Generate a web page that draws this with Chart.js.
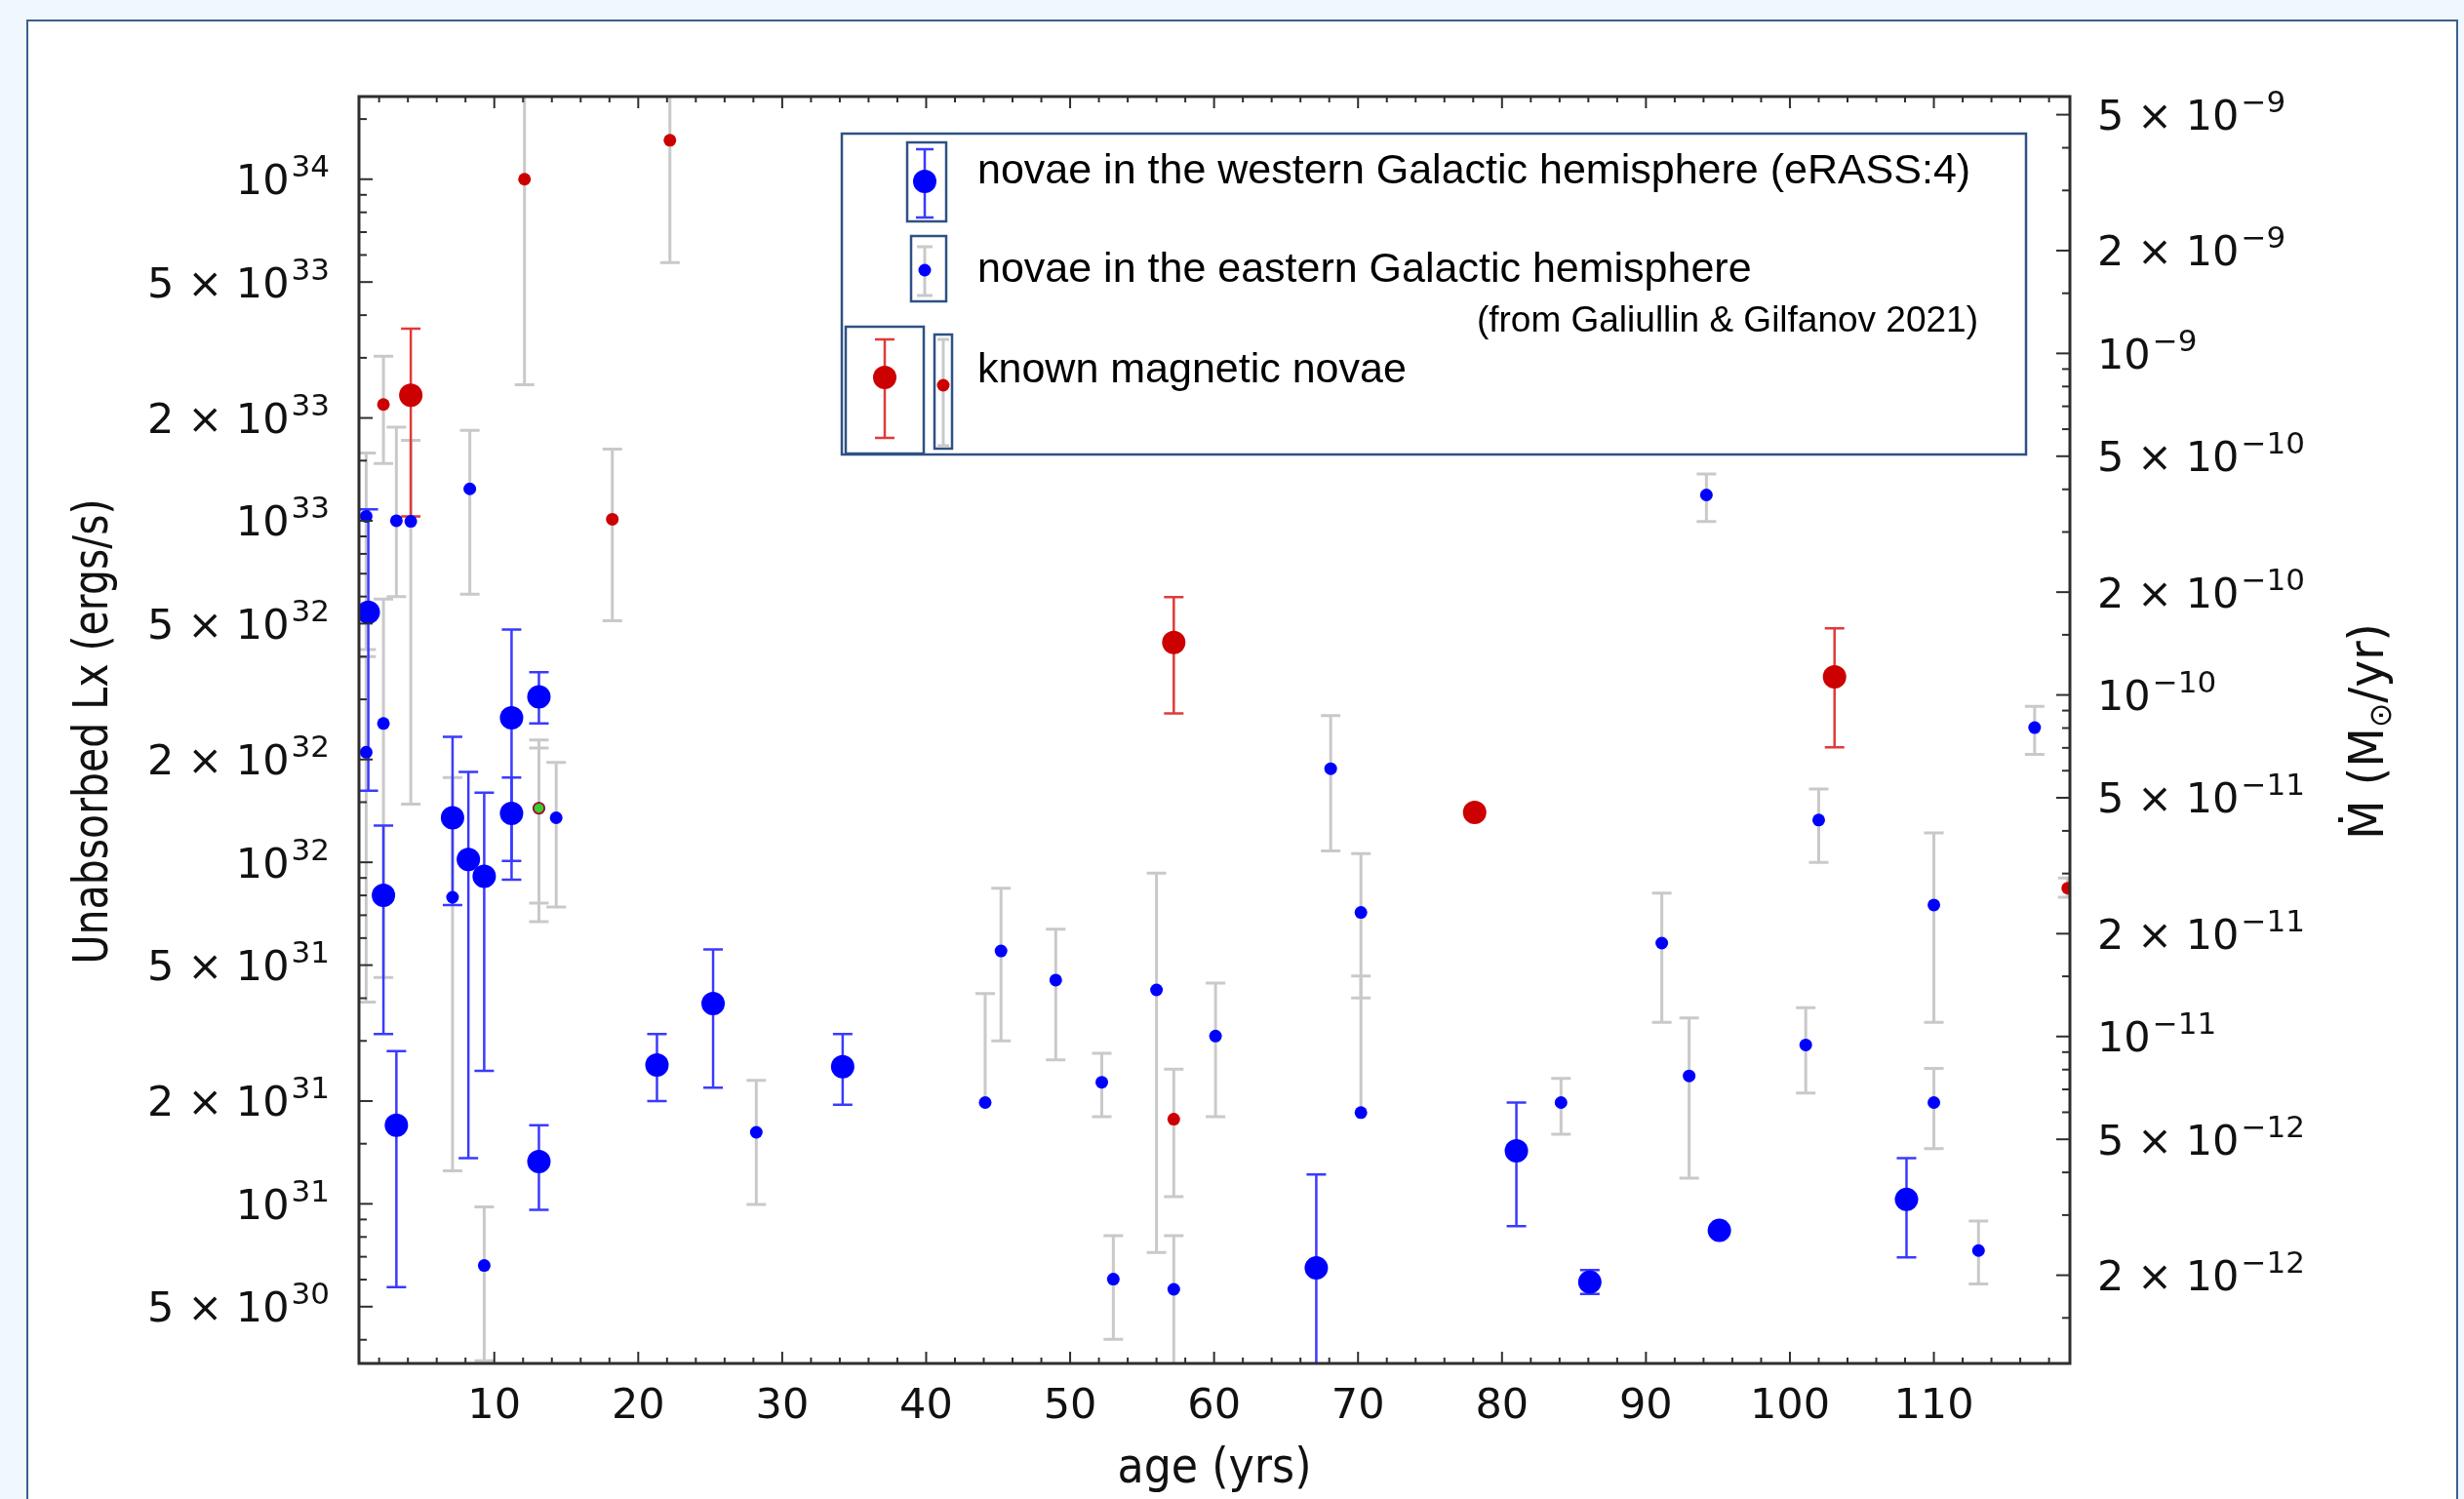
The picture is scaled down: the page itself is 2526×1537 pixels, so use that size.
<!DOCTYPE html>
<html>
<head>
<meta charset="utf-8">
<title>Nova X-ray luminosity vs age</title>
<script src="https://cdn.jsdelivr.net/npm/chart.js@4.4.1/dist/chart.umd.min.js"></script>
<style>
  html, body { margin: 0; padding: 0; }
  body { width: 2526px; height: 1537px; overflow: hidden; position: relative; background: #f0f7fd; }
  #panel { position: absolute; left: 27px; top: 20px; width: 2493px; height: 1600px;
           background: #ffffff; border: 2px solid #3a6090; box-sizing: border-box; }
  #chart { position: absolute; left: 0; top: 0; }
</style>
</head>
<body>
<div id="panel"></div>
<canvas id="chart" width="2526" height="1537"></canvas>
<script>
// ============================================
// DATA (age in yrs, unabsorbed Lx in erg/s, error bar ends)
// ============================================

// novae in the western Galactic hemisphere (eRASS:4)
const westAge = [1.25, 2.3, 3.2, 7.1, 8.2, 9.3, 11.2, 11.2, 13.1, 13.1, 21.3, 25.2, 34.2, 67.1, 81.0, 86.1, 95.1, 108.1];
const westLx  = [5.4e32, 8.0e31, 1.7e31, 1.35e32, 1.02e32, 9.1e31, 2.65e32, 1.39e32, 3.05e32, 1.33e31, 2.55e31, 3.86e31, 2.52e31, 6.49e30, 1.43e31, 5.9e30, 8.36e30, 1.03e31];
const westLo  = [1.62e32, 3.14e31, 5.7e30, 7.5e31, 1.36e31, 2.45e31, 8.9e31, 1.01e32, 2.55e32, 9.6e30, 2.0e31, 2.19e31, 1.95e31, 2.0e30, 8.6e30, 5.45e30, 8.1e30, 6.97e30];
const westHi  = [1.08e33, 1.28e32, 2.8e31, 2.33e32, 1.84e32, 1.6e32, 4.8e32, 1.77e32, 3.6e32, 1.7e31, 3.14e31, 5.56e31, 3.14e31, 1.22e31, 1.98e31, 6.4e30, 8.6e30, 1.36e31];

// novae in the eastern Galactic hemisphere (Galiullin & Gilfanov 2021)
const eastAge = [1.1, 1.1, 2.3, 3.2, 4.2, 7.1, 8.3, 9.3, 13.1, 14.3, 28.2, 44.1, 45.2, 49.0, 52.2, 53.0, 56.0, 57.2, 60.1, 68.1, 70.2, 70.2, 84.1, 91.1, 93.0, 94.2, 101.1, 102.0, 110.0, 110.0, 113.1, 117.0];
const eastLx  = [1.03e33, 2.1e32, 2.55e32, 1.0e33, 9.96e32, 7.9e31, 1.24e33, 6.6e30, 1.44e32, 1.35e32, 1.62e31, 1.98e31, 5.5e31, 4.52e31, 2.27e31, 6.02e30, 4.23e31, 5.62e30, 3.1e31, 1.88e32, 7.13e31, 1.85e31, 1.98e31, 5.8e31, 2.37e31, 1.19e33, 2.92e31, 1.33e32, 7.5e31, 1.98e31, 7.3e30, 2.48e32];
const eastLo  = [4.2e32, 3.9e31, 4.6e31, 6.0e32, 1.48e32, 1.25e31, 6.1e32, 3.47e30, 6.7e31, 7.4e31, 9.96e30, 1.98e31, 3.0e31, 2.64e31, 1.8e31, 4.01e30, 7.2e30, 2.0e30, 1.8e31, 1.08e32, 4.01e31, 1.85e31, 1.6e31, 3.4e31, 1.19e31, 9.95e32, 2.11e31, 1.0e32, 3.4e31, 1.45e31, 5.83e30, 2.07e32];
const eastHi  = [1.58e33, 4.0e32, 5.9e32, 1.88e33, 1.72e33, 1.77e32, 1.84e33, 9.8e30, 2.28e32, 1.96e32, 2.3e31, 4.13e31, 8.4e31, 6.37e31, 2.76e31, 8.07e30, 9.3e31, 8.07e30, 4.43e31, 2.69e32, 1.06e32, 4.65e31, 2.33e31, 8.13e31, 3.5e31, 1.37e33, 3.75e31, 1.64e32, 1.22e32, 2.49e31, 8.9e30, 2.86e32];

// known magnetic novae, western sample (large red)
const magWestAge = [4.2, 57.2, 78.1, 103.1];
const magWestLx  = [2.33e33, 4.4e32, 1.40e32, 3.49e32];
const magWestLo  = [1.03e33, 2.73e32, 1.40e32, 2.17e32];
const magWestHi  = [3.65e33, 5.98e32, 1.40e32, 4.84e32];

// known magnetic novae, eastern sample (small red)
const magEastAge = [2.3, 12.1, 18.2, 22.2, 57.2, 119.3];
const magEastLx  = [2.19e33, 1.0e34, 1.01e33, 1.3e34, 1.77e31, 8.4e31];
const magEastLo  = [1.47e33, 2.5e33, 5.1e32, 5.7e33, 1.05e31, 7.9e31];
const magEastHi  = [3.03e33, 3.0e34, 1.62e33, 3.0e34, 2.48e31, 9.0e31];

// the single green-marked source
const greenAge = [13.1];
const greenLx  = [1.44e32];
const greenLo  = [7.6e31];
const greenHi  = [2.16e32];

// axes
const ageRange = [0.6, 119.45];
const lxRange = [3.41e30, 1.746e34];
const mdotPerLx = Math.pow(10, -42.49);
const ageTicks = [10, 20, 30, 40, 50, 60, 70, 80, 90, 100, 110];
const lxTicks = [5e30, 1e31, 2e31, 5e31, 1e32, 2e32, 5e32, 1e33, 2e33, 5e33, 1e34];
const mdotTicks = [2e-12, 5e-12, 1e-11, 2e-11, 5e-11, 1e-10, 2e-10, 5e-10, 1e-9, 2e-9, 5e-9];
const logMinor = [1.5, 3, 4, 6, 7, 8, 9];

// ============================================
// STYLE
// ============================================
const BLUE = '#0000ff';
const RED = '#cc0000';
const GREY_ERR = '#c9c9c9';
const BLUE_ERR = '#3a3aff';
const RED_ERR = '#e03a3a';
const AXIS = '#2e2e2e';
const BOX = '#2e5185';
const MATH = '"DejaVu Sans", sans-serif';
const TEXT = '"Liberation Sans", Arial, sans-serif';

function points(ages, lx) {
    return ages.map((a, i) => ({ x: a, y: lx[i] }));
}

const datasets = [
    {
        label: 'eastern', data: points(eastAge, eastLx), errLo: eastLo, errHi: eastHi,
        errColor: GREY_ERR, errWidth: 3, pointRadius: 6.5, pointBackgroundColor: BLUE,
        pointBorderWidth: 0, order: 2, clip: 0
    },
    {
        label: 'magnetic eastern', data: points(magEastAge, magEastLx), errLo: magEastLo, errHi: magEastHi,
        errColor: GREY_ERR, errWidth: 3, pointRadius: 6.5, pointBackgroundColor: RED,
        pointBorderWidth: 0, order: 1, clip: 0
    },
    {
        label: 'green', data: points(greenAge, greenLx), errLo: greenLo, errHi: greenHi,
        errColor: GREY_ERR, errWidth: 3, pointRadius: 5.5, pointBackgroundColor: '#2fd12f',
        pointBorderColor: RED, pointBorderWidth: 1.5, order: 0, clip: 0
    },
    {
        label: 'western', data: points(westAge, westLx), errLo: westLo, errHi: westHi,
        errColor: BLUE_ERR, errWidth: 2.5, pointRadius: 12, pointBackgroundColor: BLUE,
        pointBorderWidth: 0, order: 4, clip: 0
    },
    {
        label: 'magnetic western', data: points(magWestAge, magWestLx), errLo: magWestLo, errHi: magWestHi,
        errColor: RED_ERR, errWidth: 2.5, pointRadius: 12, pointBackgroundColor: RED,
        pointBorderWidth: 0, order: 3, clip: 0
    }
];

// ============================================
// PLUGINS
// ============================================

// vertical error bars with caps, drawn under the markers
const errorBars = {
    id: 'errorBars',
    beforeDatasetsDraw(chart) {
        const { ctx, chartArea: a } = chart;
        const xs = chart.scales.x, ys = chart.scales.y;
        const cap = 10;
        ctx.save();
        ctx.beginPath();
        ctx.rect(a.left, a.top, a.right - a.left, a.bottom - a.top);
        ctx.clip();
        chart.data.datasets.forEach(ds => {
            ctx.strokeStyle = ds.errColor;
            ctx.lineWidth = ds.errWidth;
            ds.data.forEach((p, i) => {
                const lo = ds.errLo[i], hi = ds.errHi[i];
                if (lo === p.y && hi === p.y) return;
                const px = xs.getPixelForValue(p.x);
                const y1 = ys.getPixelForValue(lo);
                const y2 = ys.getPixelForValue(hi);
                ctx.beginPath();
                ctx.moveTo(px, y1);
                ctx.lineTo(px, y2);
                if (hi !== p.y) { ctx.moveTo(px - cap, y2); ctx.lineTo(px + cap, y2); }
                if (lo !== p.y) { ctx.moveTo(px - cap, y1); ctx.lineTo(px + cap, y1); }
                ctx.stroke();
            });
        });
        ctx.restore();
    }
};

function sciLabel(v) {
    const e = Math.floor(Math.log10(v) + 1e-9);
    const m = Math.round(v / Math.pow(10, e));
    return {
        mant: m === 1 ? '10' : m + ' \u00d7 10',
        exp: (e < 0 ? '\u2212' : '') + Math.abs(e)
    };
}

// "5 x 10^33" style label, digits centred on the tick
function drawSci(ctx, v, x, y, side) {
    const { mant, exp } = sciLabel(v);
    const mantFont = '43px ' + MATH, expFont = '31px ' + MATH;
    ctx.font = mantFont;
    const mw = ctx.measureText(mant).width;
    ctx.font = expFont;
    const ew = ctx.measureText(exp).width;
    const gap = 2;
    const x0 = side === 'left' ? x - (mw + gap + ew) : x;
    const base = y + 15.5;
    ctx.textAlign = 'left';
    ctx.textBaseline = 'alphabetic';
    ctx.fillStyle = '#111';
    ctx.font = mantFont;
    ctx.fillText(mant, x0, base);
    ctx.font = expFont;
    ctx.fillText(exp, x0 + mw + gap, base - 18);
}

function logTickValues(range) {
    const out = [];
    const e0 = Math.floor(Math.log10(range[0])), e1 = Math.ceil(Math.log10(range[1]));
    for (let e = e0; e <= e1; e++) {
        logMinor.forEach(m => {
            const v = m * Math.pow(10, e);
            if (v >= range[0] && v <= range[1]) out.push(v);
        });
    }
    return out;
}

function drawLegend(ctx) {
    ctx.save();
    ctx.fillStyle = '#fff';
    ctx.fillRect(863, 137, 1214, 329);
    ctx.strokeStyle = BOX;
    ctx.lineWidth = 2.5;
    ctx.strokeRect(863, 137, 1214, 329);

    const icon = (bx, by, bw, bh, cx, top, bottom, cy, r, barColor, dotColor, cap, lw) => {
        ctx.strokeStyle = BOX;
        ctx.lineWidth = 2.5;
        ctx.strokeRect(bx, by, bw, bh);
        ctx.strokeStyle = barColor;
        ctx.lineWidth = lw;
        ctx.beginPath();
        ctx.moveTo(cx, top); ctx.lineTo(cx, bottom);
        ctx.moveTo(cx - cap, top); ctx.lineTo(cx + cap, top);
        ctx.moveTo(cx - cap, bottom); ctx.lineTo(cx + cap, bottom);
        ctx.stroke();
        ctx.fillStyle = dotColor;
        ctx.beginPath();
        ctx.arc(cx, cy, r, 0, Math.PI * 2);
        ctx.fill();
    };
    icon(930, 146, 40, 81, 948, 153, 223, 186, 12, BLUE_ERR, BLUE, 9, 2.5);
    icon(934, 242, 36, 67, 948, 253, 303, 277, 6.5, GREY_ERR, BLUE, 8, 3);
    icon(867, 335, 80, 130, 907, 348, 449, 387, 12, RED_ERR, RED, 10, 2.5);
    icon(958, 343, 18, 117, 967, 348, 457, 395, 6.5, GREY_ERR, RED, 6, 3);

    ctx.fillStyle = '#000';
    ctx.textBaseline = 'middle';
    ctx.textAlign = 'left';
    ctx.font = '43px ' + TEXT;
    ctx.fillText('novae in the western Galactic hemisphere (eRASS:4)', 1002, 176);
    ctx.fillText('novae in the eastern Galactic hemisphere', 1002, 277);
    ctx.fillText('known magnetic novae', 1002, 380);
    ctx.textAlign = 'right';
    ctx.font = '37px ' + TEXT;
    ctx.fillText('(from Galiullin & Gilfanov 2021)', 2028, 330);
    ctx.restore();
}

const frameAndLabels = {
    id: 'frameAndLabels',
    afterDraw(chart) {
        const { ctx, chartArea: a } = chart;
        const xs = chart.scales.x, ys = chart.scales.y, ys2 = chart.scales.y2;
        const line = (x1, y1, x2, y2) => { ctx.beginPath(); ctx.moveTo(x1, y1); ctx.lineTo(x2, y2); ctx.stroke(); };
        ctx.save();
        ctx.strokeStyle = AXIS;
        ctx.lineWidth = 2;

        // age ticks, inward on bottom and top
        for (let v = 2; v < ageRange[1]; v += 2) {
            const len = ageTicks.includes(v) ? 12 : 6;
            const px = xs.getPixelForValue(v);
            line(px, a.bottom, px, a.bottom - len);
            line(px, a.top, px, a.top + len);
        }
        // Lx ticks on the left, Mdot ticks on the right
        lxTicks.forEach(v => { const py = ys.getPixelForValue(v); line(a.left, py, a.left + 14, py); });
        logTickValues(lxRange).forEach(v => { const py = ys.getPixelForValue(v); line(a.left, py, a.left + 8, py); });
        const mdotRange = [lxRange[0] * mdotPerLx, lxRange[1] * mdotPerLx];
        mdotTicks.forEach(v => { const py = ys2.getPixelForValue(v); line(a.right, py, a.right - 14, py); });
        logTickValues(mdotRange).forEach(v => { const py = ys2.getPixelForValue(v); line(a.right, py, a.right - 8, py); });

        // frame
        ctx.lineWidth = 3;
        ctx.strokeRect(a.left, a.top, a.right - a.left, a.bottom - a.top);

        // tick labels
        ctx.fillStyle = '#111';
        ctx.font = '43px ' + MATH;
        ctx.textAlign = 'center';
        ctx.textBaseline = 'alphabetic';
        ageTicks.forEach(v => ctx.fillText(String(v), xs.getPixelForValue(v), a.bottom + 56));
        lxTicks.forEach(v => drawSci(ctx, v, a.left - 30, ys.getPixelForValue(v), 'left'));
        mdotTicks.forEach(v => drawSci(ctx, v, a.right + 28, ys2.getPixelForValue(v), 'right'));

        // axis titles
        ctx.fillStyle = '#111';
        ctx.font = '50px ' + MATH;
        ctx.textAlign = 'center';
        ctx.fillText('age (yrs)', (a.left + a.right) / 2, 1520, 199);

        ctx.save();
        ctx.translate(110, 750);
        ctx.rotate(-Math.PI / 2);
        ctx.fillText('Unabsorbed Lx (ergs/s)', 0, 0, 477);
        ctx.restore();

        // right title: M-dot (M_sun / yr) with a subscript sun symbol
        ctx.save();
        ctx.translate(2443, 750);
        ctx.rotate(-Math.PI / 2);
        const big = '50px ' + MATH, small = '32px ' + MATH;
        const parts = [['\u1e40 (M', big, 0], ['\u2299', small, 8], ['/yr)', big, 0]];
        let total = 0;
        parts.forEach(p => { ctx.font = p[1]; total += ctx.measureText(p[0]).width; });
        const sx = Math.min(1, 222 / total);
        ctx.scale(sx, 1);
        ctx.textAlign = 'left';
        let cx = -total / 2;
        parts.forEach(p => { ctx.font = p[1]; ctx.fillText(p[0], cx, p[2]); cx += ctx.measureText(p[0]).width; });
        ctx.restore();

        ctx.restore();
        drawLegend(ctx);
    }
};

// ============================================
// CHART
// ============================================
new Chart(document.getElementById('chart'), {
    type: 'scatter',
    data: { datasets },
    options: {
        responsive: false,
        animation: false,
        events: [],
        layout: { padding: { left: 368, top: 99, right: 404, bottom: 139 } },
        plugins: {
            legend: { display: false },
            tooltip: { enabled: false }
        },
        scales: {
            x: { type: 'linear', min: ageRange[0], max: ageRange[1], display: false },
            y: { type: 'logarithmic', min: lxRange[0], max: lxRange[1], display: false },
            y2: {
                type: 'logarithmic', position: 'right', display: false,
                min: lxRange[0] * mdotPerLx, max: lxRange[1] * mdotPerLx
            }
        }
    },
    plugins: [errorBars, frameAndLabels]
});
</script>
</body>
</html>
